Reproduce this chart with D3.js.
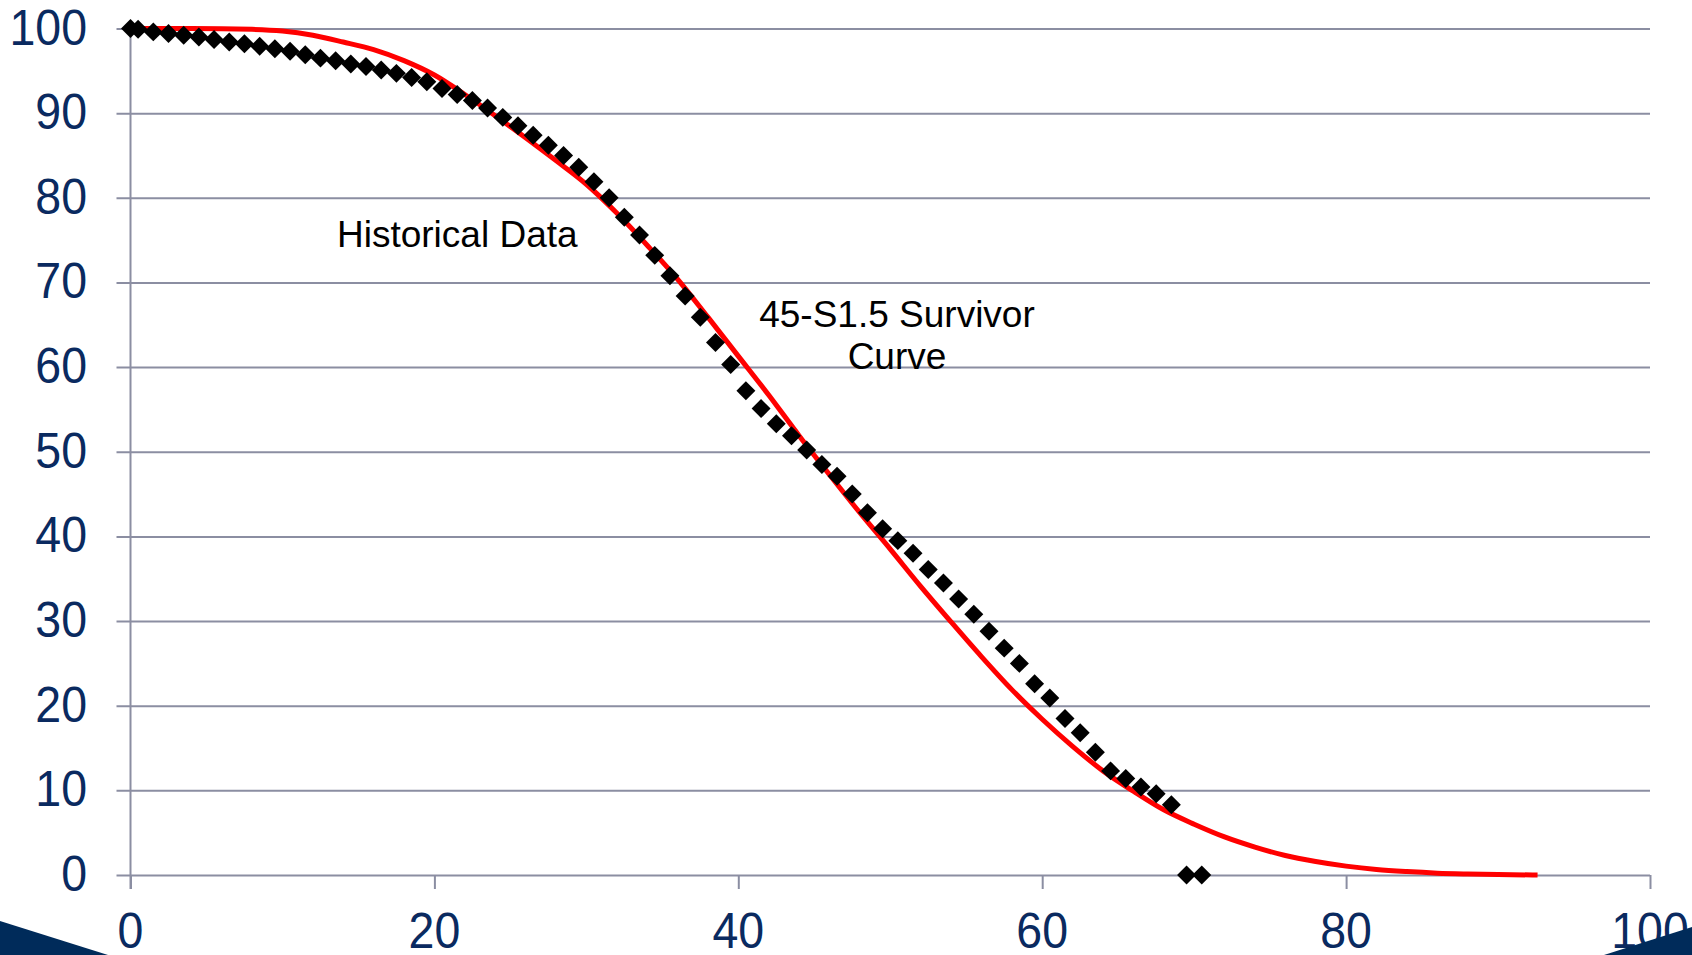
<!DOCTYPE html>
<html>
<head>
<meta charset="utf-8">
<script src="https://cdn.jsdelivr.net/npm/d3@7/dist/d3.min.js"></script>
<style>
  html, body { margin: 0; padding: 0; background: #ffffff; overflow: hidden; }
  svg { display: block; font-family: "Liberation Sans", Arial, sans-serif; }
</style>
</head>
<body>
<svg id="chart" width="1692" height="955"></svg>
<script>
// ---- Data ----
const histAges = [0, 0.5, 1.5, 2.5, 3.5, 4.5, 5.5, 6.5, 7.5, 8.5, 9.5, 10.5, 11.5, 12.5, 13.5, 14.5,
  15.5, 16.5, 17.5, 18.5, 19.5, 20.5, 21.5, 22.5, 23.5, 24.5, 25.5, 26.5, 27.5, 28.5, 29.5, 30.5,
  31.5, 32.5, 33.5, 34.5, 35.5, 36.5, 37.5, 38.5, 39.5, 40.5, 41.5, 42.5, 43.5, 44.5, 45.5, 46.5,
  47.5, 48.5, 49.5, 50.5, 51.5, 52.5, 53.5, 54.5, 55.5, 56.5, 57.5, 58.5, 59.5, 60.5, 61.5, 62.5,
  63.5, 64.5, 65.5, 66.5, 67.5, 68.5, 69.5, 70.5];
const histValues = [100, 99.9, 99.6, 99.4, 99.2, 99.0, 98.7, 98.4, 98.2, 97.9, 97.6, 97.3, 96.9, 96.5, 96.2, 95.8,
  95.5, 95.1, 94.7, 94.2, 93.7, 92.9, 92.2, 91.5, 90.6, 89.5, 88.5, 87.4, 86.2, 85.0, 83.6, 81.9,
  80.0, 77.7, 75.6, 73.2, 70.8, 68.4, 65.9, 62.9, 60.3, 57.2, 55.1, 53.3, 51.9, 50.2, 48.5, 47.1,
  45.0, 42.8, 40.9, 39.5, 38.0, 36.1, 34.5, 32.6, 30.8, 28.8, 26.8, 25.0, 22.6, 20.9, 18.5, 16.8,
  14.5, 12.3, 11.4, 10.4, 9.6, 8.3, 0, 0];

const curveAges = [0, 4, 8, 10, 12, 14, 16, 18, 20, 22, 24, 26, 28, 30, 32, 34, 36, 38, 40, 42, 44, 46,
  48, 50, 52, 54, 56, 58, 60, 62, 64, 66, 68, 70, 72, 74, 76, 78, 80, 82, 84, 86, 88, 90, 92.6];
const curveValues = [100, 100, 99.9, 99.7, 99.2, 98.4, 97.5, 96.2, 94.5, 92.2, 89.7, 87.1, 84.4, 81.6, 78.2, 74.4,
  70.4, 65.9, 61.3, 56.7, 51.9, 47.3, 42.8, 38.5, 34.1, 29.9, 25.8, 21.9, 18.4, 15.2, 12.3, 9.9, 7.7, 6.0,
  4.5, 3.3, 2.3, 1.6, 1.05, 0.65, 0.4, 0.22, 0.12, 0.05, 0];

const xTicks = [0, 20, 40, 60, 80, 100];
const yTicks = [0, 10, 20, 30, 40, 50, 60, 70, 80, 90, 100];
const historyLabel = "Historical Data";
const curveLabelLines = ["45-S1.5 Survivor", "Curve"];

// ---- Layout ----
const svg = d3.select("#chart");
const plotLeft = 130.5, plotRight = 1650, plotTop = 28.5, plotBottom = 875;
const x = d3.scaleLinear().domain([0, 100]).range([plotLeft, plotRight]);
const y = d3.scaleLinear().domain([0, 100]).range([plotBottom, plotTop]);
const gridColor = "#8b8ea2";
const labelColor = "#0a2a60";

// horizontal gridlines (with outward ticks to the left)
const yAxis = d3.axisLeft(y).tickValues(yTicks).tickSize(-(plotRight - plotLeft)).tickSizeOuter(0).tickFormat("");
const gy = svg.append("g").attr("transform", `translate(${plotLeft},0)`).call(yAxis);
gy.select(".domain").remove();
gy.selectAll(".tick line").attr("stroke", gridColor).attr("stroke-width", 2)
  .attr("x1", -14);

// y tick labels
svg.append("g").selectAll("text").data(yTicks).join("text")
  .attr("transform", d => `translate(87,${y(d) + 16}) scale(1,1.06)`)
  .attr("text-anchor", "end")
  .attr("font-size", 46.5).attr("fill", labelColor)
  .text(d => d);

// x axis ticks
const xAxis = d3.axisBottom(x).tickValues(xTicks).tickSize(14).tickSizeOuter(0).tickFormat("");
const gx = svg.append("g").attr("transform", `translate(0,${plotBottom})`).call(xAxis);
gx.select(".domain").remove();
gx.selectAll(".tick line").attr("stroke", gridColor).attr("stroke-width", 2);

// vertical axis line
svg.append("line").attr("x1", x(0)).attr("x2", x(0)).attr("y1", y(100)).attr("y2", plotBottom + 14)
  .attr("stroke", gridColor).attr("stroke-width", 2);

// x tick labels
svg.append("g").selectAll("text").data(xTicks).join("text")
  .attr("transform", d => `translate(${x(d)},948) scale(1,1.06)`)
  .attr("text-anchor", "middle")
  .attr("font-size", 46.5).attr("fill", labelColor)
  .text(d => d);

// red survivor curve
const curveData = curveAges.map((a, i) => [a, curveValues[i]]);
svg.append("path").datum(curveData)
  .attr("fill", "none").attr("stroke", "#ff0000").attr("stroke-width", 5)
  .attr("d", d3.line().x(d => x(d[0])).y(d => y(d[1])).curve(d3.curveMonotoneX));

// historical diamonds
const histData = histAges.map((a, i) => [a, histValues[i]]);
const sym = d3.symbol().type(d3.symbolSquare).size(180);
svg.append("g").selectAll("path").data(histData).join("path")
  .attr("d", sym)
  .attr("transform", d => `translate(${x(d[0])},${y(d[1])}) rotate(45)`)
  .attr("fill", "#000000");

// annotations
svg.append("text").attr("x", 337).attr("y", 246.5)
  .attr("font-size", 37).attr("fill", "#000").text(historyLabel);
svg.append("g").selectAll("text").data(curveLabelLines).join("text")
  .attr("x", 897).attr("y", (d, i) => 327 + i * 41.5)
  .attr("text-anchor", "middle")
  .attr("font-size", 37).attr("fill", "#000").text(d => d);

// slide corner decorations
svg.append("polygon").attr("points", "0,921 108,955 0,955").attr("fill", "#002b5a");
svg.append("polygon").attr("points", "1604,955 1692,927 1692,955").attr("fill", "#002b5a");
</script>
</body>
</html>
